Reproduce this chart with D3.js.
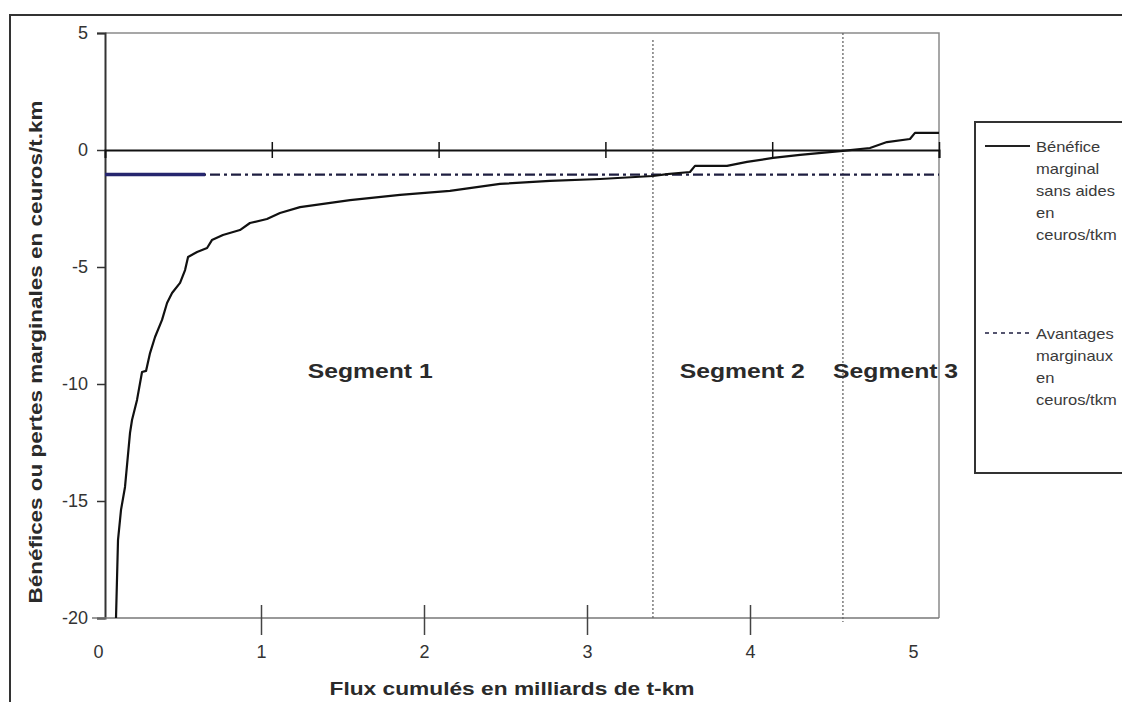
<!DOCTYPE html>
<html lang="fr">
<head>
<meta charset="utf-8">
<title>Bénéfices ou pertes marginales</title>
<script src="https://d3js.org/d3.v7.min.js"></script>
<style>
  body { margin: 0; background: #fff; }
  svg { display: block; font-family: "Liberation Sans", Arial, sans-serif; }
</style>
</head>
<body>
<div id="chart"></div>
<script>
// data (flux in billions of t-km, benefit in ceuros/tkm)
var fluxCumules = [0.066, 0.078, 0.096, 0.120, 0.150, 0.162, 0.192, 0.222, 0.246, 0.270,
  0.300, 0.342, 0.372, 0.402, 0.450, 0.480, 0.498, 0.552, 0.612, 0.641,
  0.707, 0.809, 0.869, 0.971, 1.049, 1.169, 1.469, 1.769, 2.068, 2.368,
  2.668, 2.968, 3.285, 3.37, 3.507, 3.537, 3.729, 3.849, 4.005, 4.167,
  4.424, 4.586, 4.688, 4.826, 4.856, 5.0];
var beneficeMarginal = [-20, -16.67, -15.38, -14.40, -12.09, -11.54, -10.68, -9.49, -9.44, -8.68,
  -7.99, -7.26, -6.54, -6.11, -5.68, -5.13, -4.57, -4.36, -4.19, -3.85,
  -3.63, -3.42, -3.12, -2.95, -2.69, -2.44, -2.14, -1.92, -1.75, -1.45,
  -1.32, -1.24, -1.11, -1.03, -0.94, -0.68, -0.68, -0.51, -0.34, -0.21,
  -0.04, 0.085, 0.34, 0.47, 0.73, 0.73];
var avantageFlux = [0, 5];
var avantageValeur = [-1.05, -1.05];
var avantageFortFlux = [0, 0.6]; // darker start of the dash line

var segmentBornes = [3.285, 4.424];
var segmentNoms = ["Segment 1", "Segment 2", "Segment 3"];
var segmentCentres = [1.59, 3.82, 4.74];

var xTicks = [0, 1, 2, 3, 4, 5];
var yTicks = [5, 0, -5, -10, -15, -20];

var legendeBenefice = ["Bénéfice", "marginal", "sans aides", "en", "ceuros/tkm"];
var legendeAvantage = ["Avantages", "marginaux", "en", "ceuros/tkm"];

var width = 1122, height = 702;

var svg = d3.select("#chart").append("svg")
  .attr("width", width)
  .attr("height", height);

// outer frame (runs off the page on the right and bottom)
svg.append("rect")
  .attr("x", 10).attr("y", 15)
  .attr("width", 1300).attr("height", 900)
  .attr("fill", "none").attr("stroke", "#333").attr("stroke-width", 2);

// scales
var x = d3.scaleLinear().domain([0, 5]).range([105, 939]);
var xBas = d3.scaleLinear().domain([0, 5]).range([98, 913]); // bottom labels sit a bit off in the scan
var y = d3.scaleLinear().domain([-20, 5]).range([618, 33]);

// plot frame: top and right in grey
svg.append("path")
  .attr("d", "M" + x(0) + "," + y(5) + "H" + x(5) + "V" + y(-20))
  .attr("fill", "none").attr("stroke", "#8a8a8a").attr("stroke-width", 1.5);

// y axis
var yAxis = svg.append("g")
  .attr("transform", "translate(" + x(0) + ",0)")
  .call(d3.axisLeft(y).tickValues(yTicks).tickSize(8).tickPadding(9)
    .tickFormat(function(d) { return String(d); }));
yAxis.select(".domain").attr("stroke", "#333").attr("stroke-width", 2);
yAxis.selectAll(".tick line").attr("stroke", "#333").attr("stroke-width", 1.5);
yAxis.selectAll("text").attr("font-size", 18).attr("fill", "#333");

// bottom axis
svg.append("line")
  .attr("x1", 92).attr("x2", x(5))
  .attr("y1", y(-20)).attr("y2", y(-20))
  .attr("stroke", "#777").attr("stroke-width", 1.5);
var xAxis = svg.append("g")
  .attr("transform", "translate(0," + y(-20) + ")")
  .call(d3.axisBottom(xBas).tickValues(xTicks).tickSize(17).tickPadding(10)
    .tickFormat(function(d) { return String(d); }));
xAxis.select(".domain").remove();
xAxis.selectAll(".tick line")
  .attr("y1", function(d) { return (d === 0 || d === 5) ? 0 : -13; })
  .attr("y2", function(d) { return (d === 0 || d === 5) ? 0 : 17; })
  .attr("stroke", "#444").attr("stroke-width", 1.5);
xAxis.selectAll("text").attr("font-size", 18).attr("fill", "#333");

// zero line with crossing ticks
var zeroAxis = svg.append("g")
  .attr("transform", "translate(0," + y(0) + ")")
  .call(d3.axisBottom(x).tickValues([1, 2, 3, 4, 5]).tickSize(8).tickFormat(""));
zeroAxis.select(".domain").attr("stroke", "#111").attr("stroke-width", 2);
zeroAxis.selectAll(".tick line").attr("y1", -8).attr("stroke", "#111").attr("stroke-width", 1.5);

// segment boundaries
svg.selectAll(".borne")
  .data(segmentBornes)
  .enter().append("line")
    .attr("class", "borne")
    .attr("x1", function(d) { return x(d); })
    .attr("x2", function(d) { return x(d); })
    .attr("y1", function(d, i) { return i === 0 ? 40 : y(5); })
    .attr("y2", function(d, i) { return i === 0 ? y(-20) : y(-20) + 4; })
    .attr("stroke", "#666").attr("stroke-width", 1.3)
    .attr("stroke-dasharray", "2,2");

// marginal advantages, dash-dot
var ligne = d3.line()
  .x(function(d) { return x(d[0]); })
  .y(function(d) { return y(d[1]); });
svg.append("path")
  .datum(d3.zip(avantageFlux, avantageValeur))
  .attr("d", ligne)
  .attr("fill", "none").attr("stroke", "#1e1e40").attr("stroke-width", 2.2)
  .attr("stroke-dasharray", "10,4,3,4");
svg.append("path")
  .datum(d3.zip(avantageFortFlux, avantageValeur))
  .attr("d", ligne)
  .attr("fill", "none").attr("stroke", "#26266e").attr("stroke-width", 3.4);

// marginal benefit curve
svg.append("path")
  .datum(d3.zip(fluxCumules, beneficeMarginal))
  .attr("d", ligne)
  .attr("fill", "none").attr("stroke", "#111").attr("stroke-width", 2.2)
  .attr("stroke-linejoin", "round");

// segment labels
svg.selectAll(".segment")
  .data(segmentNoms)
  .enter().append("text")
    .attr("class", "segment")
    .attr("x", function(d, i) { return x(segmentCentres[i]); })
    .attr("y", 378)
    .attr("text-anchor", "middle")
    .attr("font-size", 20).attr("font-weight", "bold").attr("fill", "#2a2a2a")
    .attr("textLength", 125).attr("lengthAdjust", "spacingAndGlyphs")
    .text(function(d) { return d; });

// axis titles
svg.append("text")
  .attr("x", 512).attr("y", 695)
  .attr("text-anchor", "middle")
  .attr("font-size", 18).attr("font-weight", "bold").attr("fill", "#2a2a2a")
  .attr("textLength", 365).attr("lengthAdjust", "spacingAndGlyphs")
  .text("Flux cumulés en milliards de t-km");

svg.append("text")
  .attr("transform", "translate(42,352) rotate(-90)")
  .attr("text-anchor", "middle")
  .attr("font-size", 18).attr("font-weight", "bold").attr("fill", "#2a2a2a")
  .attr("textLength", 503).attr("lengthAdjust", "spacingAndGlyphs")
  .text("Bénéfices ou pertes marginales en ceuros/t.km");

// legend
svg.append("rect")
  .attr("x", 975).attr("y", 122)
  .attr("width", 300).attr("height", 351)
  .attr("fill", "#fff").attr("stroke", "#333").attr("stroke-width", 2);

svg.append("line")
  .attr("x1", 985).attr("x2", 1030).attr("y1", 146).attr("y2", 146)
  .attr("stroke", "#222").attr("stroke-width", 1.8);
svg.append("line")
  .attr("x1", 985).attr("x2", 1030).attr("y1", 333).attr("y2", 333)
  .attr("stroke", "#1e1e40").attr("stroke-width", 1.5)
  .attr("stroke-dasharray", "4,4");

function blocLegende(lignes, y0) {
  var g = svg.append("g")
    .attr("transform", "translate(1036," + y0 + ") scale(1.18,1)");
  g.selectAll("text")
    .data(lignes)
    .enter().append("text")
      .attr("x", 0)
      .attr("y", function(d, i) { return i * 22; })
      .attr("font-size", 14).attr("fill", "#3a3a3a")
      .text(function(d) { return d; });
}
blocLegende(legendeBenefice, 152);
blocLegende(legendeAvantage, 339);
</script>
</body>
</html>
